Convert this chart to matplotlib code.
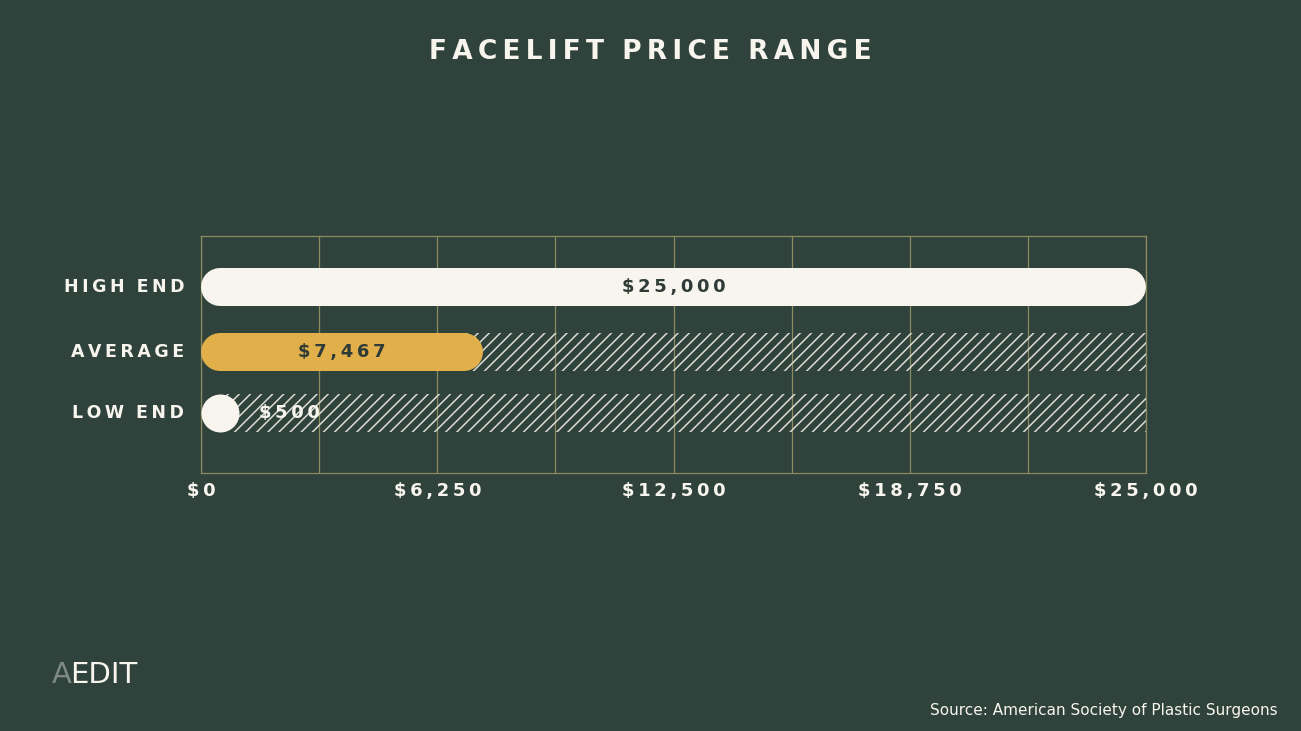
import matplotlib
matplotlib.use("Agg")
import matplotlib.pyplot as plt
from matplotlib.patches import Rectangle

categories = ["HIGH END", "AVERAGE", "LOW END"]
values = [25000, 7467, 500]
labels = ["$25,000", "$7,467", "$500"]
ticks = [0, 6250, 12500, 18750, 25000]
tick_labels = ["$0", "$6,250", "$12,500", "$18,750", "$25,000"]
xmax = 25000

BG = "#2f423c"; CREAM = "#f8f5ee"; GOLD = "#e2b04a"; DARK = "#2f3b36"; GRID = "#8c8a5e"
plt.rcParams["hatch.linewidth"] = 1.1

def sp(s):
    return "\u2009".join(s).replace("\u2009 \u2009", "  ")

W, H = 1301, 731
fig = plt.figure(figsize=(W/100, H/100), dpi=100, facecolor=BG)
L, R, T, B = 201, 1146, 236, 473
ax = fig.add_axes([L/W, 1-B/H, (R-L)/W, (B-T)/H])
ax.set_facecolor(BG)
ax.set_xlim(0, xmax)
ax.set_ylim(B, T)
rows = [287, 352, 413]
bh = 38
px = xmax/(R-L)

for x in [i*3125 for i in range(9)]:
    ax.axvline(x, color=GRID, lw=0.9, zorder=1)
for s in ax.spines.values():
    s.set_color(GRID); s.set_linewidth(0.9)
ax.set_xticks([]); ax.set_yticks([])

lw = bh*72/100
r = bh/2*px
for i, (c, v, lab, y) in enumerate(zip(categories, values, labels, rows)):
    if i > 0:
        start = max(v - r, r)
        ax.add_patch(Rectangle((start, y-bh/2), xmax-start, bh, facecolor="none",
                               edgecolor="#dcdcd4", hatch="///", lw=0, zorder=2))
    col = CREAM if i != 1 else GOLD
    if v - r > r:
        ax.plot([r, v-r], [y, y], color=col, lw=lw, solid_capstyle="round", zorder=3)
    else:
        ax.plot([r], [y], marker="o", ms=lw, color=col, mew=0, zorder=3)
    if i == 2:
        ax.text(2340, y, sp(lab), color=CREAM, fontsize=13, fontweight="bold",
                ha="center", va="center", zorder=4)
    else:
        ax.text(v/2, y, sp(lab), color=DARK, fontsize=13, fontweight="bold",
                ha="center", va="center", zorder=4)
    fig.text((L-17)/W, 1-y/H, sp(c), color=CREAM, fontsize=12.5,
             fontweight="bold", ha="right", va="center")

for t, tl in zip(ticks, tick_labels):
    xp = L + t/px
    fig.text(xp/W, 1-491/H, sp(tl), color=CREAM, fontsize=13, fontweight="bold",
             ha="center", va="center")

fig.text(0.5, 1-52/H, sp("FACELIFT PRICE RANGE"), color=CREAM,
         fontsize=19, fontweight="bold", ha="center", va="center")
fig.text(52/W, 1-675/H, "A", color="#7f8a86", fontsize=21, ha="left", va="center")
fig.text(70/W, 1-675/H, "EDIT", color=CREAM, fontsize=21, ha="left", va="center")
fig.text(1278/W, 1-710/H, "Source: American Society of Plastic Surgeons", color=CREAM,
         fontsize=11, ha="right", va="center")

fig.savefig("out.png", dpi=100, facecolor=BG)
